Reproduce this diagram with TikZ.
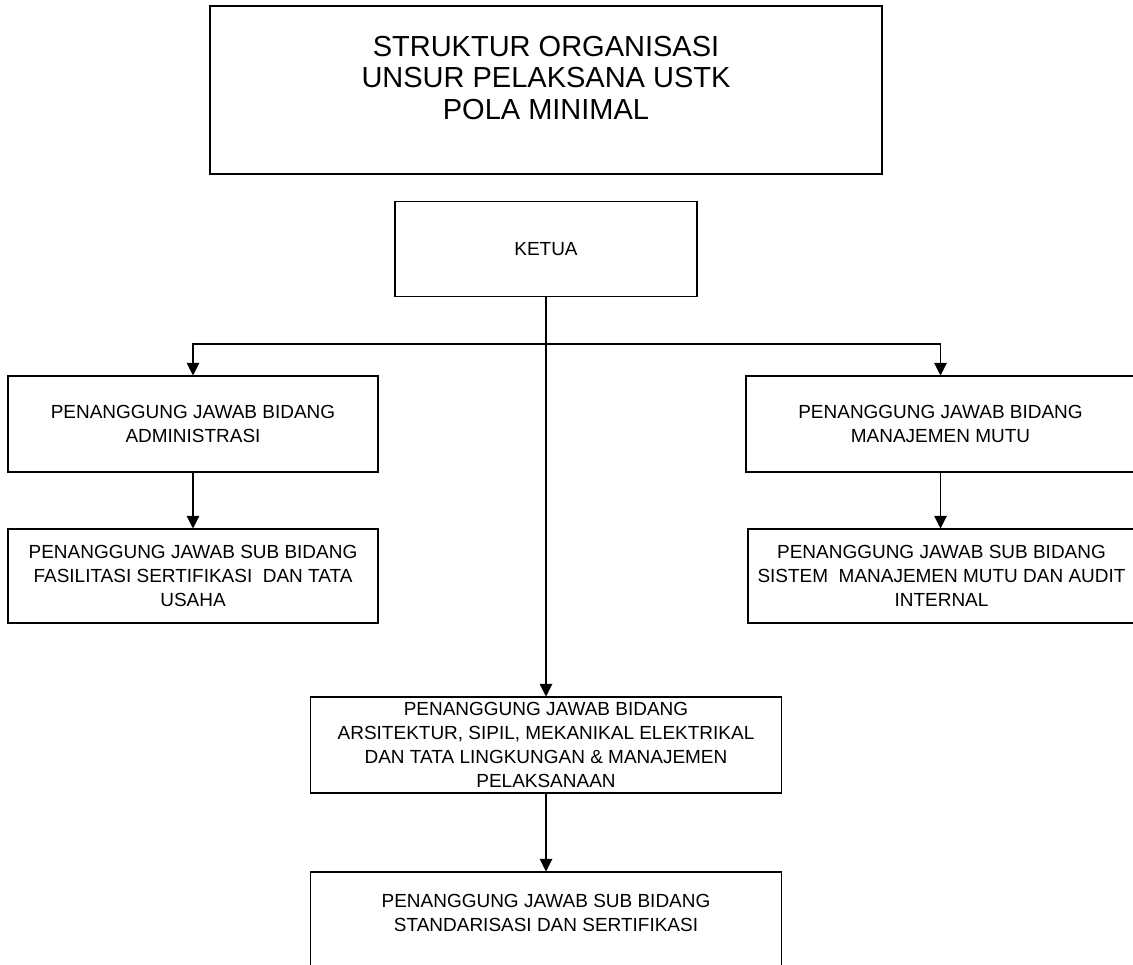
\documentclass[tikz,border=0pt]{standalone}
\usepackage{fontspec}
\setmainfont{Liberation Sans}
\usetikzlibrary{arrows.meta,positioning}

\begin{document}
\begin{tikzpicture}[
  font=\fontsize{10.8}{13.6}\selectfont,
  kotak/.style={draw=black, line width=0.6pt, align=center, inner sep=2pt},
  judul/.style={font=\fontsize{16.5}{17.9}\selectfont, align=center},
  panah/.style={-{Triangle[length=0.25cm, width=0.25cm]}, line width=0.6pt},
  garis/.style={line width=0.6pt}
]
\useasboundingbox (0,0) rectangle (22.66,-19.28);

\node[kotak, minimum width=13.44cm, minimum height=3.36cm] (struktur) at (10.92,-1.80) {};
\node[judul] (strukturteks) at (10.92,-1.56) {STRUKTUR ORGANISASI\\UNSUR PELAKSANA USTK\\POLA MINIMAL};

\node[kotak, minimum width=6.04cm, minimum height=1.90cm] (ketua) at (10.92,-4.98) {KETUA};

\node[kotak, minimum width=7.40cm, minimum height=1.92cm] (admin) at (3.86,-8.48)
  {PENANGGUNG JAWAB BIDANG\\ADMINISTRASI};
\node[kotak, minimum width=7.40cm, minimum height=1.88cm] (subadmin) at (3.86,-11.52)
  {PENANGGUNG JAWAB SUB BIDANG\\FASILITASI SERTIFIKASI \ DAN TATA\\USAHA};

\node[kotak, minimum width=7.78cm, minimum height=1.92cm] (mutu) at (18.81,-8.48)
  {PENANGGUNG JAWAB BIDANG\\MANAJEMEN MUTU};
\node[kotak, minimum width=7.74cm, minimum height=1.88cm] (submutu) at (18.83,-11.52)
  {PENANGGUNG JAWAB SUB BIDANG\\SISTEM \ MANAJEMEN MUTU DAN AUDIT\\INTERNAL};

\node[kotak, minimum width=9.42cm, minimum height=1.92cm] (arsitektur) at (10.92,-14.90)
  {PENANGGUNG JAWAB BIDANG\\ARSITEKTUR, SIPIL, MEKANIKAL ELEKTRIKAL\\DAN TATA LINGKUNGAN \& MANAJEMEN\\PELAKSANAAN};
\node[kotak, minimum width=9.42cm, minimum height=1.92cm, text depth=0.29cm] (standar) at (10.92,-18.40)
  {PENANGGUNG JAWAB SUB BIDANG\\STANDARISASI DAN SERTIFIKASI};

\coordinate (cabang) at (10.92,-6.88);
\draw[panah] (ketua.south) -- (arsitektur.north);
\draw[panah] (cabang) -| (admin.north);
\draw[panah] (cabang) -| (mutu.north);
\draw[panah] (admin.south) -- (subadmin.north);
\draw[panah] (mutu.south) -- (mutu.south |- submutu.north);
\draw[panah] (arsitektur.south) -- (standar.north);
\end{tikzpicture}
\end{document}
